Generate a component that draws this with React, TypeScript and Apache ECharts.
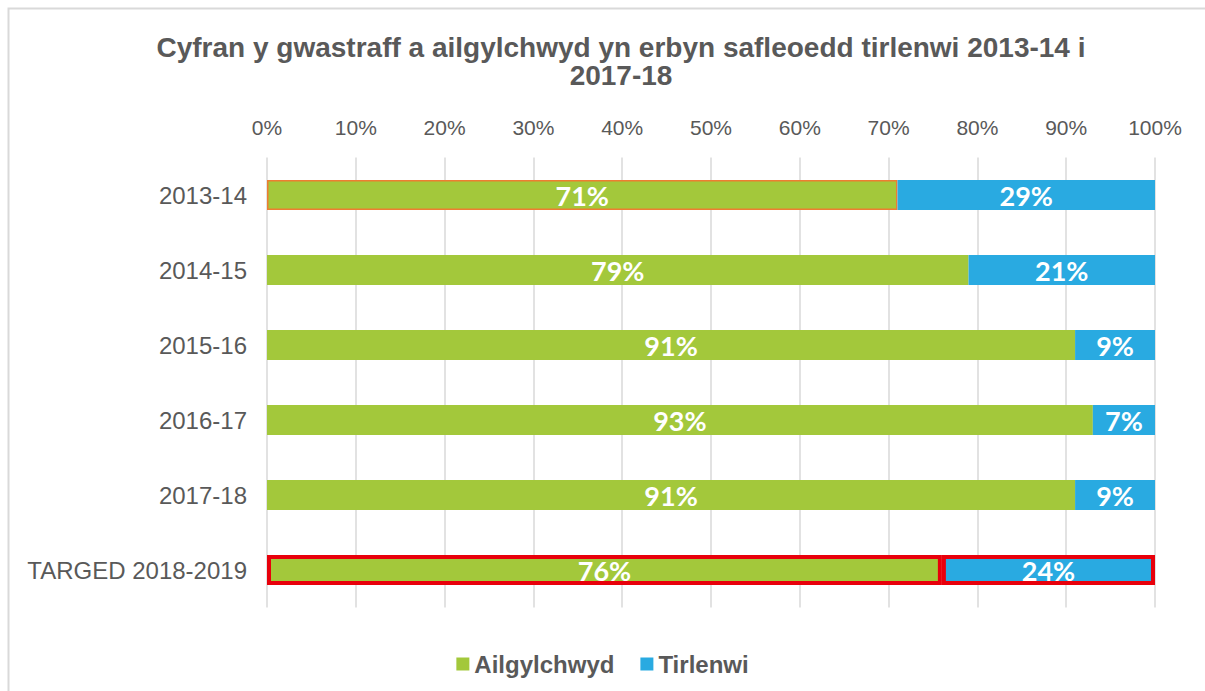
import React, { useEffect, useRef } from "react";
import * as echarts from "echarts";

const titleText = "Cyfran y gwastraff a ailgylchwyd yn erbyn safleoedd tirlenwi 2013-14 i\n2017-18";
const categories = ["2013-14", "2014-15", "2015-16", "2016-17", "2017-18", "TARGED 2018-2019"];
const recycled = [71, 79, 91, 93, 91, 76];
const landfill = [29, 21, 9, 7, 9, 24];
const seriesNames = ["Ailgylchwyd", "Tirlenwi"];

const GREEN = "#A3C83B";
const BLUE = "#29AAE1";
const TEXT = "#595959";

export default function App() {
  const ref = useRef<HTMLDivElement>(null);
  useEffect(() => {
    if (!ref.current) return;
    const chart = echarts.init(ref.current, null, { renderer: "svg" });
    const lastIdx = categories.length - 1;
    const mkData = (vals: number[], isFirstOrange: boolean) =>
      vals.map((v, i) => {
        if (i === lastIdx) {
          return { value: v, itemStyle: { borderColor: "#E8000B", borderWidth: 4 } };
        }
        if (i === 0 && isFirstOrange) {
          return { value: v, itemStyle: { borderColor: "#ED7D31", borderWidth: 1.5 } };
        }
        return v;
      });
    const label = {
      show: true,
      position: "inside",
      color: "#FFFFFF",
      fontFamily: "Lato",
      fontWeight: "bold",
      fontSize: 27,
      formatter: (p: any) => `${p.value}%`,
    };
    chart.setOption({
      animation: false,
      backgroundColor: "#FFFFFF",
      title: {
        text: titleText,
        left: 616,
        textAlign: "center",
        top: 28,
        textStyle: {
          fontFamily: "Liberation Sans, Arial",
          fontWeight: "bold",
          fontSize: 28,
          color: TEXT,
          lineHeight: 28,
        },
      },
      legend: {
        data: seriesNames,
        left: "center",
        top: 647,
        itemWidth: 13,
        itemHeight: 13,
        itemGap: 26,
        icon: "rect",
        textStyle: {
          fontFamily: "Liberation Sans, Arial",
          fontWeight: "bold",
          fontSize: 24,
          color: TEXT,
        },
      },
      grid: { left: 267, right: 50, top: 157.5, height: 450, containLabel: false },
      xAxis: {
        type: "value",
        position: "top",
        min: 0,
        max: 100,
        interval: 10,
        axisLine: { show: false },
        axisTick: { show: false },
        splitLine: { show: true, lineStyle: { color: "#D9D9D9", width: 1.5 } },
        axisLabel: {
          formatter: "{value}%",
          fontFamily: "Liberation Sans, Arial",
          fontSize: 21,
          color: TEXT,
          margin: 20,
        },
      },
      yAxis: {
        type: "category",
        data: categories,
        inverse: true,
        axisLine: { show: false },
        axisTick: { show: false },
        axisLabel: {
          fontFamily: "Liberation Sans, Arial",
          fontSize: 24,
          color: TEXT,
          margin: 20,
        },
      },
      series: [
        {
          name: seriesNames[0],
          type: "bar",
          stack: "total",
          barWidth: 30,
          itemStyle: { color: GREEN },
          label,
          data: mkData(recycled, true),
        },
        {
          name: seriesNames[1],
          type: "bar",
          stack: "total",
          barWidth: 30,
          itemStyle: { color: BLUE },
          label,
          data: mkData(landfill, false),
        },
      ],
      graphic: [
        {
          type: "rect",
          left: 6,
          top: 6,
          shape: { x: 0, y: 0, width: 1220, height: 700 },
          style: { fill: "none", stroke: "#D9D9D9", lineWidth: 2 },
          silent: true,
        },
      ],
    });
    return () => chart.dispose();
  }, []);
  return (
    <div
      ref={ref}
      style={{ position: "absolute", left: 0, top: 0, width: 1205, height: 691 }}
    />
  );
}
